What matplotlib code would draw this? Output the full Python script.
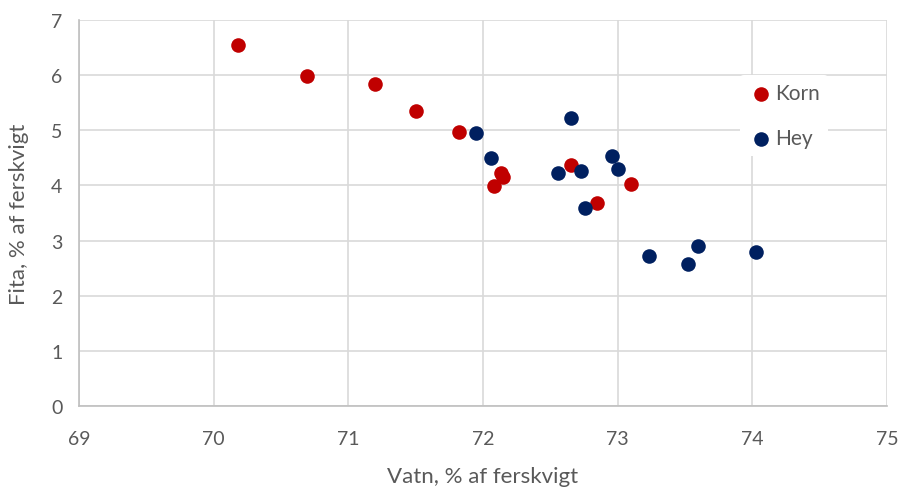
import matplotlib.pyplot as plt

korn_x = [70.18, 70.69, 71.20, 71.50, 71.82, 72.13, 72.15, 72.08, 72.65, 72.85, 73.10]
korn_y = [6.55, 5.98, 5.84, 5.35, 4.97, 4.23, 4.15, 3.99, 4.37, 3.68, 4.03]

hey_x = [71.95, 72.06, 72.65, 72.56, 72.73, 72.96, 73.00, 72.76, 73.23, 73.52, 73.60, 74.03]
hey_y = [4.95, 4.50, 5.22, 4.23, 4.26, 4.54, 4.30, 3.59, 2.72, 2.58, 2.90, 2.79]

plt.rcParams['font.family'] = ['Lato', 'DejaVu Sans']

fig = plt.figure(figsize=(9.01, 4.89), dpi=100)
ax = fig.add_axes([0.0877, 0.1677, 0.8968, 0.7893])

ax.scatter(korn_x, korn_y, s=110, color='#C00000', label='Korn', zorder=3, linewidths=0)
ax.scatter(hey_x, hey_y, s=110, color='#002060', label='Hey', zorder=3, linewidths=0)

ax.set_xlim(69, 75)
ax.set_ylim(0, 7)
ax.set_xticks(range(69, 76))
ax.set_yticks(range(0, 8))
ax.grid(True, color='#d9d9d9', linewidth=1.2)
ax.set_axisbelow(True)
for side in ['top', 'right']:
    ax.spines[side].set_visible(False)
for side in ['left', 'bottom']:
    ax.spines[side].set_color('#bfbfbf')
    ax.spines[side].set_linewidth(1.2)
ax.tick_params(length=0, labelsize=14, labelcolor='#595959', pad=17)
ax.tick_params(axis='y', pad=12)

ax.set_xlabel('Vatn, % af ferskvigt', fontsize=16, color='#595959', labelpad=14)
ax.set_ylabel('Fita, % af ferskvigt', fontsize=16, color='#595959', labelpad=16)

leg = ax.legend(loc='upper left', bbox_to_anchor=(0.805, 0.885), frameon=True,
                fontsize=15, labelcolor='#595959', handletextpad=0.1,
                labelspacing=1.2, borderpad=0.4, handlelength=1.2)
leg.get_frame().set_edgecolor('none')
leg.get_frame().set_facecolor('white')
leg.get_frame().set_alpha(1)

plt.savefig('out.png', dpi=100)
